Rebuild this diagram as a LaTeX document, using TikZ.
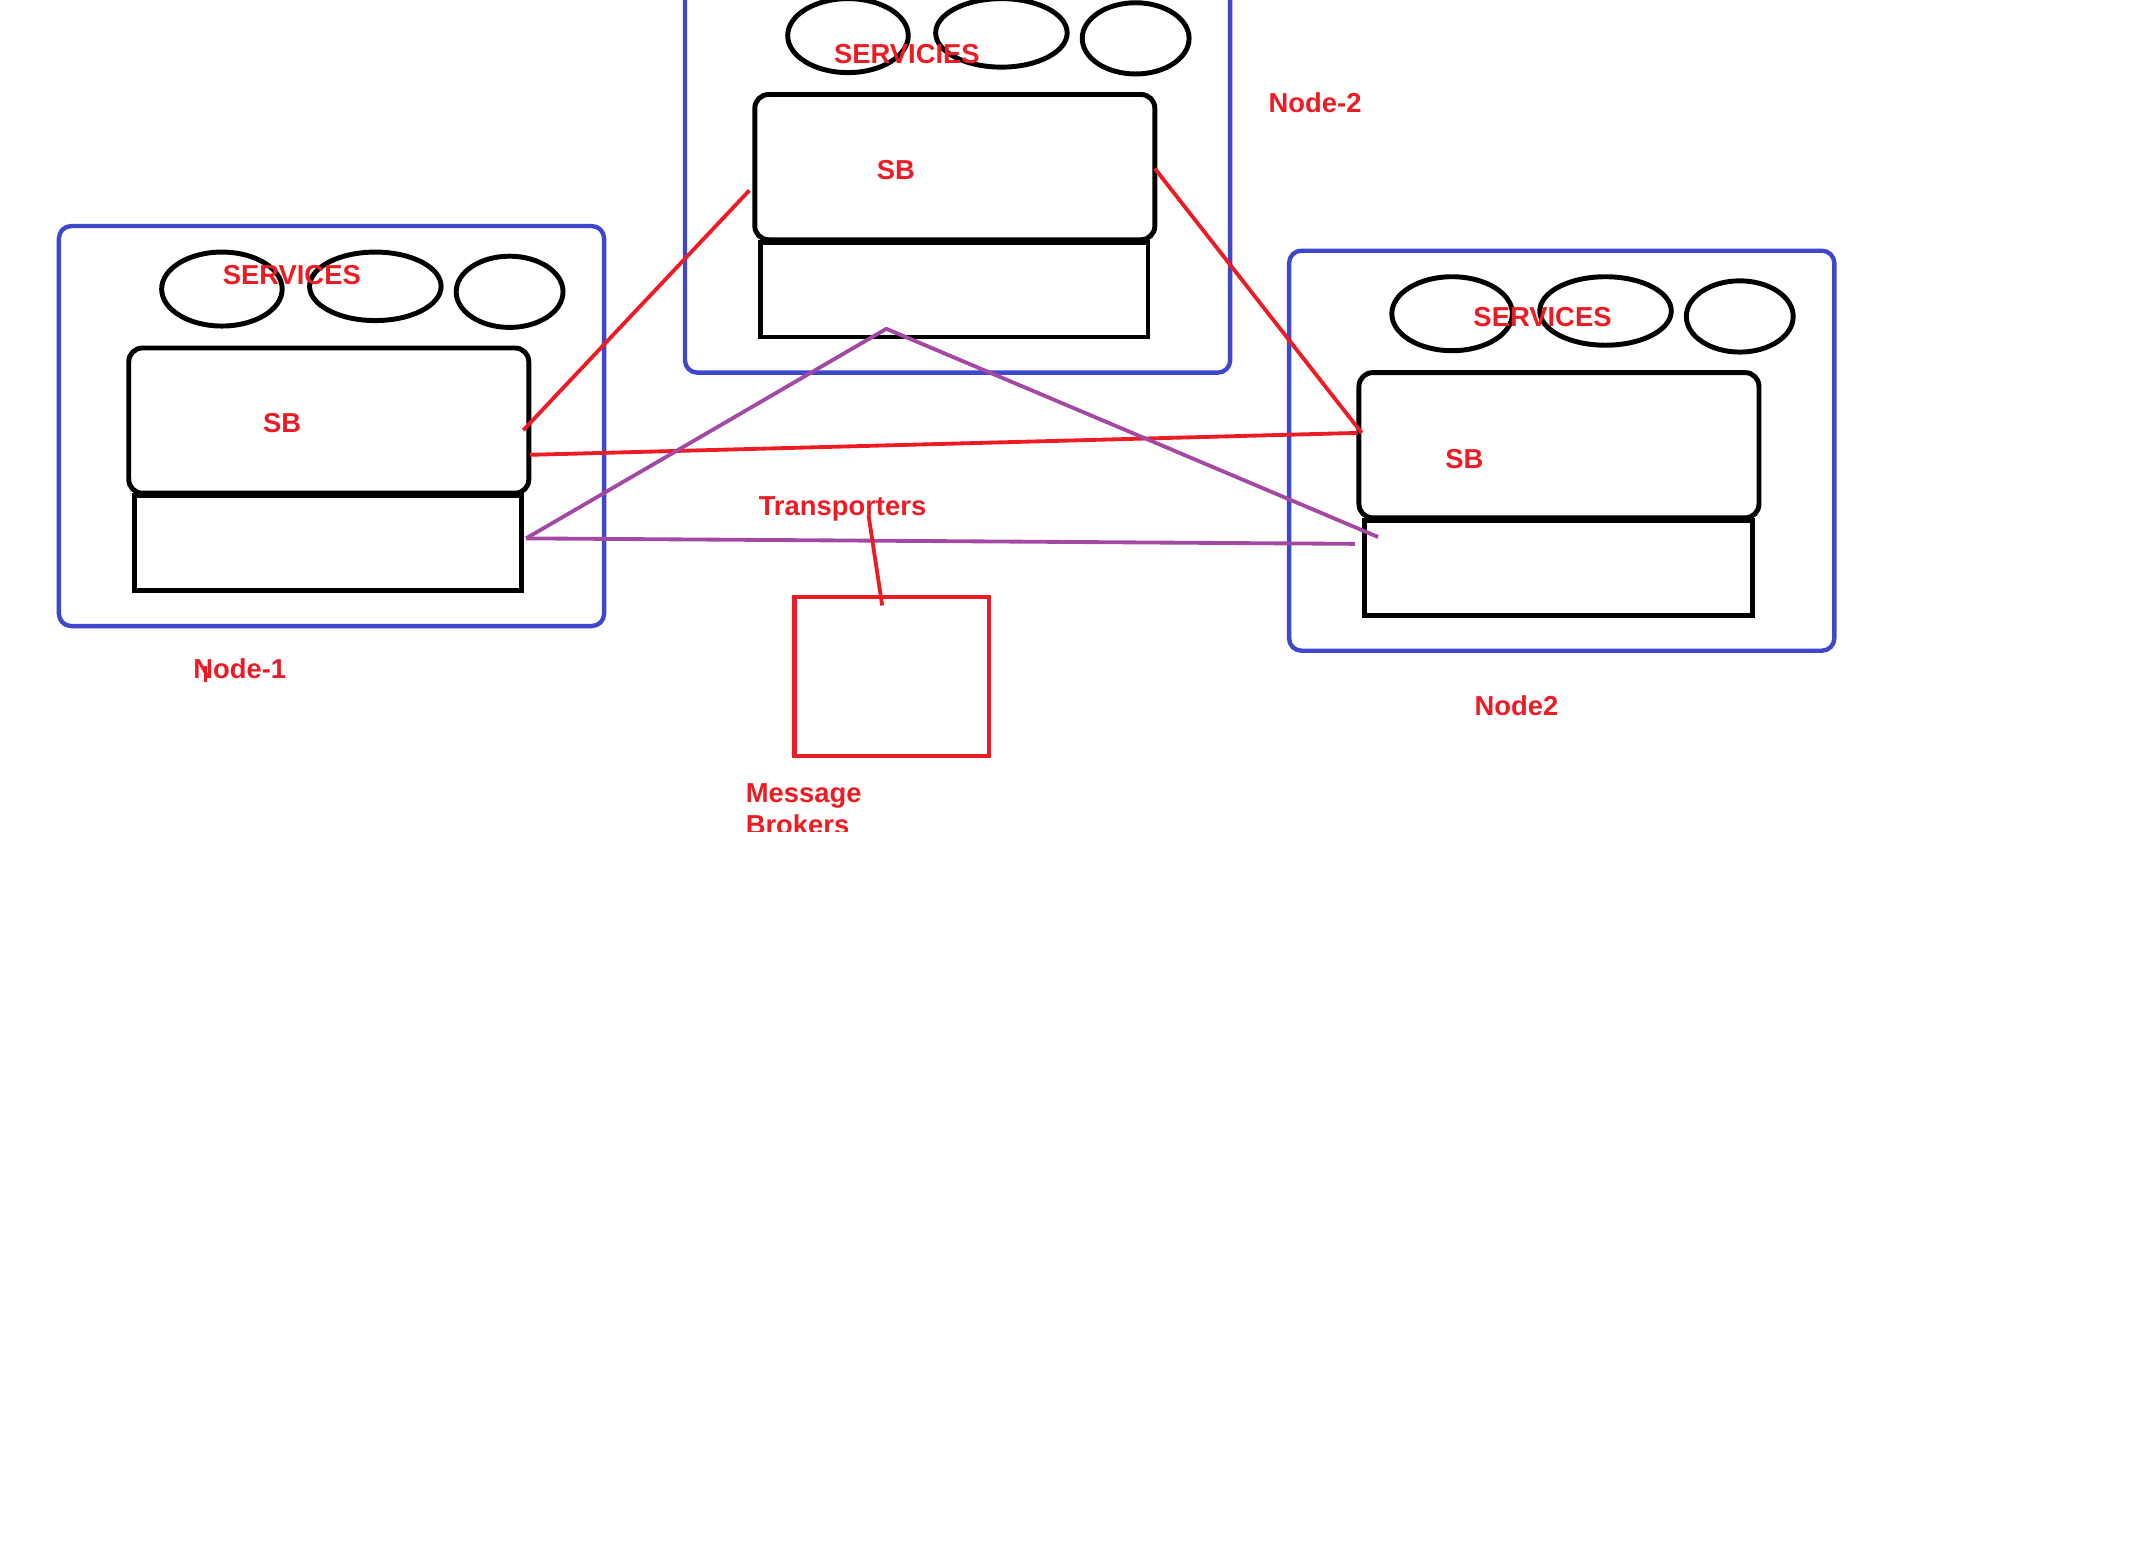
\documentclass[tikz,border=0pt]{standalone}
\usepackage{fontspec}
\setmainfont{Liberation Sans}
\usetikzlibrary{positioning}
\definecolor{pblue}{RGB}{63,72,204}
\definecolor{pred}{RGB}{237,28,36}
\definecolor{ppurple}{RGB}{163,73,164}
\tikzset{
  hostbox/.style={draw=pblue, line width=1.6pt, rounded corners=4.5pt},
  sbbox/.style={draw=black, line width=1.8pt, rounded corners=5pt},
  lowbox/.style={draw=black, line width=1.8pt},
  svc/.style={draw=black, line width=1.8pt},
  lbl/.style={text=pred, font=\bfseries\fontsize{10}{11.5}\selectfont, inner sep=0pt, anchor=base},
  redlink/.style={draw=pred, line width=1.4pt},
  purplelink/.style={draw=ppurple, line width=1.4pt},
}

\begin{document}
\begin{tikzpicture}[x=0.5pt, y=-0.5pt]
      \useasboundingbox (0, 0) rectangle (1568, 1131);

      % Node-1
      \begin{scope}
        \draw [hostbox] (43, 165) rectangle (441, 457);
        \draw [svc] (162, 211) ellipse [x radius=44, y radius=27];
        \draw [svc] (274, 209) ellipse [x radius=48, y radius=25];
        \draw [svc] (372, 213) ellipse [x radius=39, y radius=26];
        \draw [sbbox] (94, 254) rectangle (386, 360);
        \draw [lowbox] (98, 362) rectangle (381, 431);
      \end{scope}
      % Node-2
      \begin{scope}[shift={(457, -185)}]
        \draw [hostbox] (43, 165) rectangle (441, 457);
        \draw [svc] (162, 211) ellipse [x radius=44, y radius=27];
        \draw [svc] (274, 209) ellipse [x radius=48, y radius=25];
        \draw [svc] (372, 213) ellipse [x radius=39, y radius=26];
        \draw [sbbox] (94, 254) rectangle (386, 360);
        \draw [lowbox] (98, 362) rectangle (381, 431);
      \end{scope}
      % Node2
      \begin{scope}[shift={(898, 18)}]
        \draw [hostbox] (43, 165) rectangle (441, 457);
        \draw [svc] (162, 211) ellipse [x radius=44, y radius=27];
        \draw [svc] (274, 209) ellipse [x radius=48, y radius=25];
        \draw [svc] (372, 213) ellipse [x radius=39, y radius=26];
        \draw [sbbox] (94, 254) rectangle (386, 360);
        \draw [lowbox] (98, 362) rectangle (381, 431);
      \end{scope}

      \node [lbl] (svc1) at (213, 208) {SERVICES};
      \node [lbl] (sb1) at (206, 316) {SB};
      \node [lbl] (host1) at (175, 495) {Node-1};
      \draw [redlink, line width=1.2pt] (150, 486) -- (150, 498);

      \node [lbl] (svc2) at (662, 46) {SERVICIES};
      \node [lbl] (sb2) at (654, 131) {SB};
      \node [lbl] (host2) at (960, 82) {Node-2};

      \node [lbl] (svc3) at (1126, 238) {SERVICES};
      \node [lbl] (sb3) at (1069, 342) {SB};
      \node [lbl] (host3) at (1107, 522) {Node2};

      % links between the service brokers
      \coordinate (sb1a) at (382, 314);
      \coordinate (sb1b) at (387, 332);
      \coordinate (sb2a) at (547, 139);
      \coordinate (sb2b) at (843, 123);
      \coordinate (sb3a) at (994, 316);
      \coordinate (sb3b) at (991, 316);
      \draw [redlink] (sb1a) -- (sb2a);
      \draw [redlink] (sb2b) -- (sb3a);
      \draw [redlink] (sb1b) -- (sb3b);

      % transporters
      \coordinate (low1) at (384, 393);
      \coordinate (low2) at (647, 240);
      \coordinate (low3a) at (1006, 392);
      \coordinate (low3b) at (989, 397);
      \draw [purplelink, line join=round] (low1) -- (low2) -- (low3a);
      \draw [purplelink] (low1) -- (low3b);

      \node [lbl] (transp) at (615, 376) {Transporters};
      \draw [pred, line width=1.6pt] (580, 436) rectangle (722, 552);
      \coordinate (brk) at (644, 442);
      \coordinate (tip) at (634, 376);
      \draw [redlink] (tip) -- (brk);

      \begin{scope}
        \clip (500, 560) rectangle (700, 607);
        \node [lbl, anchor=base west, align=left] (broker) at (544, 609) {Message\\Brokers};
      \end{scope}
    \end{tikzpicture}
\end{document}
